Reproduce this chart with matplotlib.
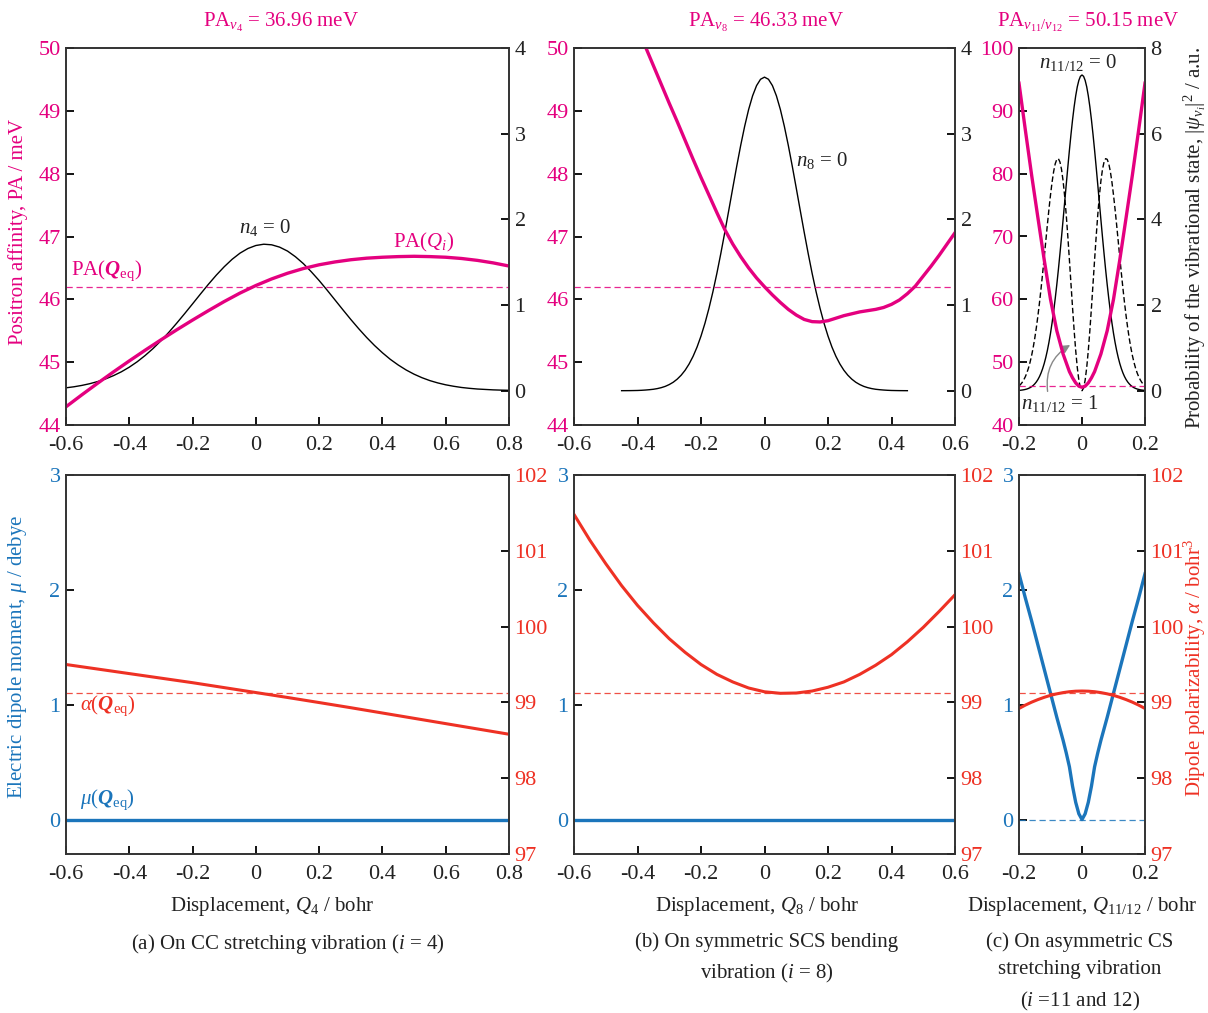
import numpy as np
import matplotlib
matplotlib.use('Agg')
import matplotlib.pyplot as plt
from matplotlib.patches import FancyArrowPatch

# --- fonts ---
plt.rcParams['font.family'] = 'Liberation Serif'
plt.rcParams['mathtext.fontset'] = 'custom'
plt.rcParams['mathtext.rm'] = 'Liberation Serif'
plt.rcParams['mathtext.it'] = 'Liberation Serif:italic'
plt.rcParams['mathtext.bf'] = 'Liberation Serif:bold'
plt.rcParams['mathtext.bfit'] = 'Liberation Serif:italic:bold'
plt.rcParams['axes.unicode_minus'] = False
FS = 15      # labels and captions
FS_TICK = 16

PINK = '#E4007F'
RED = '#EE3124'
BLUE = '#1B75BB'
INK = '#222222'

# --- data: top row (PA and vibrational probability) ---
Q_A_PA = np.round(np.linspace(-0.6, 0.8, 29), 3)
PA_A = [44.29, 44.48, 44.665, 44.845, 45.02, 45.19, 45.355, 45.515, 45.67, 45.82,
        45.965, 46.10, 46.22, 46.325, 46.415, 46.49, 46.55, 46.595, 46.63, 46.655,
        46.67, 46.68, 46.685, 46.68, 46.67, 46.65, 46.62, 46.58, 46.53]
Q_A_PSI = np.round(np.linspace(-0.6, 0.8, 57), 3)
PSI_A = [0.034, 0.046, 0.062, 0.082, 0.107, 0.138, 0.176, 0.221, 0.275, 0.338,
         0.411, 0.492, 0.583, 0.682, 0.789, 0.900, 1.014, 1.129, 1.242, 1.349,
         1.447, 1.534, 1.606, 1.660, 1.695, 1.710, 1.703, 1.676, 1.630, 1.564,
         1.484, 1.389, 1.286, 1.175, 1.060, 0.945, 0.832, 0.724, 0.622, 0.528,
         0.443, 0.366, 0.300, 0.242, 0.193, 0.152, 0.118, 0.091, 0.069, 0.052,
         0.038, 0.028, 0.020, 0.015, 0.010, 0.007, 0.005]

Q_B_PA = np.round(np.linspace(-0.4, 0.6, 41), 3)
PA_B = [50.32, 50.02, 49.72, 49.42, 49.12, 48.83, 48.53, 48.23, 47.94, 47.66,
        47.38, 47.11, 46.88, 46.68, 46.50, 46.34, 46.20, 46.07, 45.95, 45.84,
        45.75, 45.68, 45.645, 45.64, 45.66, 45.70, 45.74, 45.77, 45.80, 45.82,
        45.84, 45.87, 45.92, 45.99, 46.09, 46.21, 46.37, 46.53, 46.70, 46.88, 47.06]
Q_B_PSI = np.round(np.linspace(-0.45, 0.45, 73), 4)
PSI_B = [0.0005, 0.0008, 0.0012, 0.002, 0.003, 0.005, 0.008, 0.012, 0.017, 0.025,
         0.036, 0.051, 0.072, 0.099, 0.135, 0.181, 0.239, 0.312, 0.401, 0.509,
         0.638, 0.788, 0.961, 1.155, 1.370, 1.603, 1.850, 2.106, 2.365, 2.620,
         2.863, 3.086, 3.282, 3.442, 3.561, 3.635, 3.66,
         3.635, 3.561, 3.442, 3.282, 3.086, 2.863, 2.620, 2.365, 2.106, 1.850,
         1.603, 1.370, 1.155, 0.961, 0.788, 0.638, 0.509, 0.401, 0.312, 0.239,
         0.181, 0.135, 0.099, 0.072, 0.051, 0.036, 0.025, 0.017, 0.012, 0.008,
         0.005, 0.003, 0.002, 0.0012, 0.0008, 0.0005]

Q_C_PA = [-0.2, -0.18, -0.16, -0.14, -0.12, -0.10, -0.08, -0.06, -0.04, -0.03,
          -0.02, -0.01, 0.0, 0.01, 0.02, 0.03, 0.04, 0.06, 0.08, 0.10, 0.12,
          0.14, 0.16, 0.18, 0.2]
PA_C = [94.4, 87.0, 79.8, 73.0, 66.3, 60.0, 55.0, 51.3, 48.5, 47.5, 46.7, 46.18,
        46.0, 46.18, 46.7, 47.5, 48.5, 51.3, 55.0, 60.0, 66.3, 73.0, 79.8, 87.0, 94.4]
Q_C_PSI = np.round(np.linspace(-0.2, 0.2, 81), 4)
PSI_C0 = [0.008, 0.011, 0.016, 0.022, 0.030, 0.040, 0.054, 0.071, 0.094, 0.123,
          0.160, 0.205, 0.261, 0.330, 0.414, 0.515, 0.634, 0.775, 0.938, 1.127,
          1.341, 1.584, 1.854, 2.152, 2.477, 2.826, 3.199, 3.588, 3.992, 4.402,
          4.814, 5.219, 5.611, 5.981, 6.323, 6.626, 6.884, 7.093, 7.245, 7.339,
          7.37,
          7.339, 7.245, 7.093, 6.884, 6.626, 6.323, 5.981, 5.611, 5.219, 4.814,
          4.402, 3.992, 3.588, 3.199, 2.826, 2.477, 2.152, 1.854, 1.584, 1.341,
          1.127, 0.938, 0.775, 0.634, 0.515, 0.414, 0.330, 0.261, 0.205, 0.160,
          0.123, 0.094, 0.071, 0.054, 0.040, 0.030, 0.022, 0.016, 0.011, 0.008]
PSI_C1 = [0.110, 0.147, 0.193, 0.253, 0.326, 0.417, 0.528, 0.662, 0.820, 1.007,
          1.223, 1.469, 1.746, 2.052, 2.385, 2.740, 3.110, 3.490, 3.868, 4.233,
          4.570, 4.870, 5.117, 5.298, 5.401, 5.417, 5.340, 5.166, 4.896, 4.537,
          4.101, 3.601, 3.059, 2.497, 1.939, 1.411, 0.938, 0.544, 0.247, 0.0625,
          0.0,
          0.0625, 0.247, 0.544, 0.938, 1.411, 1.939, 2.497, 3.059, 3.601, 4.101,
          4.537, 4.896, 5.166, 5.340, 5.417, 5.401, 5.298, 5.117, 4.870, 4.570,
          4.233, 3.868, 3.490, 3.110, 2.740, 2.385, 2.052, 1.746, 1.469, 1.223,
          1.007, 0.820, 0.662, 0.528, 0.417, 0.326, 0.253, 0.193, 0.147, 0.110]

PA_EQ = 46.2
TITLES = [r'PA$_{\nu_4}$ = 36.96 meV', r'PA$_{\nu_8}$ = 46.33 meV',
          r'PA$_{\nu_{11}/\nu_{12}}$ = 50.15 meV']

# --- data: bottom row (dipole moment and polarizability) ---
Q_A_MU = [-0.6, 0.8]
MU_A = [0.0, 0.0]
Q_A_AL = np.round(np.linspace(-0.6, 0.8, 15), 3)
AL_A = [99.50, 99.44, 99.38, 99.32, 99.26, 99.195, 99.13, 99.065, 98.998,
        98.93, 98.86, 98.79, 98.72, 98.65, 98.58]

Q_B_MU = [-0.6, 0.6]
MU_B = [0.0, 0.0]
Q_B_AL = np.round(np.linspace(-0.6, 0.6, 25), 3)
AL_B = [101.48, 101.14, 100.83, 100.54, 100.28, 100.05, 99.84, 99.66, 99.50,
        99.37, 99.27, 99.19, 99.14, 99.12, 99.124, 99.15, 99.20, 99.27, 99.37,
        99.49, 99.63, 99.80, 99.99, 100.20, 100.42]

Q_C_MU = [-0.2, -0.18, -0.16, -0.14, -0.12, -0.10, -0.08, -0.06, -0.05, -0.04,
          -0.03, -0.02, -0.01, 0.0, 0.01, 0.02, 0.03, 0.04, 0.05, 0.06, 0.08,
          0.10, 0.12, 0.14, 0.16, 0.18, 0.2]
MU_C = [2.14, 1.93, 1.73, 1.52, 1.31, 1.10, 0.89, 0.69, 0.58, 0.46, 0.29, 0.15,
        0.05, 0.0, 0.05, 0.15, 0.29, 0.46, 0.58, 0.69, 0.89, 1.10, 1.31, 1.52,
        1.73, 1.93, 2.14]
Q_C_AL = np.round(np.linspace(-0.2, 0.2, 21), 3)
AL_C = [98.92, 98.964, 99.003, 99.037, 99.067, 99.093, 99.113, 99.129, 99.141,
        99.148, 99.15, 99.148, 99.141, 99.129, 99.113, 99.093, 99.067, 99.037,
        99.003, 98.964, 98.92]

ALPHA_EQ = 99.13
MU_EQ = 0.0

XLIMS = [(-0.6, 0.8), (-0.6, 0.6), (-0.2, 0.2)]
XTICKS = [[-0.6, -0.4, -0.2, 0, 0.2, 0.4, 0.6, 0.8],
          [-0.6, -0.4, -0.2, 0, 0.2, 0.4, 0.6],
          [-0.2, 0, 0.2]]
XLABELS = [r'Displacement, $Q_4$ / bohr', r'Displacement, $Q_8$ / bohr',
           r'Displacement, $Q_{11/12}$ / bohr']
CAPTIONS = [r'(a) On CC stretching vibration ($i$ = 4)',
            '(b) On symmetric SCS bending\n' + r'vibration ($i$ = 8)',
            '(c) On asymmetric CS\nstretching vibration\n' + r'($i$ =11 and 12)']

# --- layout (pixel boxes -> figure fractions) ---
W, H = 1208, 1013
COLS = [(66, 509), (574, 955), (1019, 1145)]
TOP_ROW = (48, 425)
BOT_ROW = (475, 854)
TITLE_X = [281, 766, 1088]


def make_axes(fig, col, row):
    x0, x1 = col
    y0, y1 = row
    return fig.add_axes([x0 / W, 1 - y1 / H, (x1 - x0) / W, (y1 - y0) / H])


def style(ax, ax2, xlim, xticks, lcolor, rcolor):
    for a in (ax, ax2):
        for s in a.spines.values():
            s.set_linewidth(1.2)
            s.set_color('#333333')
    ax.set_xlim(*xlim)
    ax.set_xticks(xticks)
    ax.set_xticklabels([f'{v:g}' for v in xticks])
    ax.tick_params(axis='x', direction='in', length=6, width=1.3,
                   labelsize=FS_TICK, pad=8, top=False, labelcolor=INK)
    ax.tick_params(axis='y', direction='in', length=6, width=1.3,
                   labelsize=FS_TICK, labelcolor=lcolor, pad=4)
    ax2.tick_params(axis='y', direction='in', length=6, width=1.3,
                    labelsize=FS_TICK, labelcolor=rcolor, pad=4)


fig = plt.figure(figsize=(W / 100, H / 100), dpi=100)

pa_x = [Q_A_PA, Q_B_PA, Q_C_PA]
pa_y = [PA_A, PA_B, PA_C]
psi_x = [Q_A_PSI, Q_B_PSI, Q_C_PSI]
psi_y = [PSI_A, PSI_B, PSI_C0]
mu_x = [Q_A_MU, Q_B_MU, Q_C_MU]
mu_y = [MU_A, MU_B, MU_C]
al_x = [Q_A_AL, Q_B_AL, Q_C_AL]
al_y = [AL_A, AL_B, AL_C]

for i in range(3):
    # --- top row: PA (left axis) and |psi|^2 (right axis) ---
    ax = make_axes(fig, COLS[i], TOP_ROW)
    ax2 = ax.twinx()
    ax.set_zorder(ax2.get_zorder() + 1)
    ax.patch.set_visible(False)
    style(ax, ax2, XLIMS[i], XTICKS[i], PINK, INK)
    ax.axhline(PA_EQ, color=PINK, lw=0.9, dashes=(5, 3), alpha=0.85)
    ax.plot(pa_x[i], pa_y[i], color=PINK, lw=2.4)
    ax2.plot(psi_x[i], psi_y[i], color='black', lw=1.0)
    if i < 2:
        ax.set_ylim(44, 50)
        ax.set_yticks([44, 45, 46, 47, 48, 49, 50])
        ax2.set_ylim(-0.4, 4)
        ax2.set_yticks([0, 1, 2, 3, 4])
    else:
        ax.set_ylim(40, 100)
        ax.set_yticks([40, 50, 60, 70, 80, 90, 100])
        ax2.set_ylim(-0.8, 8)
        ax2.set_yticks([0, 2, 4, 6, 8])
        ax2.plot(Q_C_PSI, PSI_C1, color='black', lw=1.0, dashes=(4, 2))
    fig.text(TITLE_X[i] / W, 1 - 22 / H, TITLES[i],
             color=PINK, fontsize=FS, ha='center', va='center')

    if i == 0:
        ax.text(-0.585, 46.45, r'PA($\mathbfit{Q}_{\mathrm{eq}}$)', color=PINK,
                fontsize=FS, ha='left', va='center')
        ax.text(0.53, 46.9, r'PA($Q_i$)', color=PINK, fontsize=FS,
                ha='center', va='center')
        ax2.text(0.03, 1.9, r'$n_4$ = 0', color=INK, fontsize=FS,
                 ha='center', va='center')
    elif i == 1:
        ax2.text(0.10, 2.69, r'$n_8$ = 0', color=INK, fontsize=FS,
                 ha='left', va='center')
    else:
        ax2.text(-0.013, 7.65, r'$n_{11/12}$ = 0', color=INK, fontsize=FS,
                 ha='center', va='center')
        ax2.text(-0.07, -0.3, r'$n_{11/12}$ = 1', color=INK, fontsize=FS,
                 ha='center', va='center')
        arr = FancyArrowPatch((-0.108, -0.08), (-0.03, 1.1),
                              connectionstyle='arc3,rad=-0.35',
                              arrowstyle='-|>,head_length=5,head_width=2.5',
                              color='#888888', lw=1.0, mutation_scale=1)
        ax2.add_patch(arr)

    # --- bottom row: mu (left axis) and alpha (right axis) ---
    bx = make_axes(fig, COLS[i], BOT_ROW)
    bx2 = bx.twinx()
    style(bx, bx2, XLIMS[i], XTICKS[i], BLUE, RED)
    bx.set_ylim(-0.3, 3)
    bx.set_yticks([0, 1, 2, 3])
    bx2.set_ylim(97, 102)
    bx2.set_yticks([97, 98, 99, 100, 101, 102])
    bx2.axhline(ALPHA_EQ, color=RED, lw=0.9, dashes=(5, 3), alpha=0.85)
    bx2.plot(al_x[i], al_y[i], color=RED, lw=2.2)
    bx.axhline(MU_EQ, color=BLUE, lw=0.9, dashes=(5, 3), alpha=0.85)
    bx.plot(mu_x[i], mu_y[i], color=BLUE, lw=2.4)
    if i == 0:
        bx.text(-0.556, 0.99, r'$\alpha$($\mathbfit{Q}_{\mathrm{eq}}$)', color=RED,
                fontsize=FS, ha='left', va='center')
        bx.text(-0.556, 0.17, r'$\mu$($\mathbfit{Q}_{\mathrm{eq}}$)', color=BLUE,
                fontsize=FS, ha='left', va='center')

# axis titles
fig.text(18 / W, 1 - 232 / H, 'Positron affinity, PA / meV', color=PINK,
         fontsize=FS, rotation=90, ha='center', va='center')
fig.text(18 / W, 1 - 657 / H, r'Electric dipole moment, $\mu$ / debye', color=BLUE,
         fontsize=FS, rotation=90, ha='center', va='center')
fig.text(1195 / W, 1 - 238 / H,
         r'Probability of the vibrational state, $|\psi_{\nu_i}|^2$ / a.u.',
         color=INK, fontsize=FS, rotation=90, ha='center', va='center')
fig.text(1195 / W, 1 - 668 / H, r'Dipole polarizability, $\alpha$ / bohr$^3$',
         color=RED, fontsize=FS, rotation=90, ha='center', va='center')

XLABEL_X = [272, 757, 1082]
CAPTION_X = [288, 767, 1080]
for i in range(3):
    fig.text(XLABEL_X[i] / W, 1 - 906 / H, XLABELS[i], fontsize=FS,
             ha='center', va='center', color=INK)
    fig.text(CAPTION_X[i] / W, 1 - 932 / H, CAPTIONS[i], fontsize=FS,
             ha='center', va='top', color=INK, linespacing=1.62)

fig.savefig('out.png', dpi=100)
